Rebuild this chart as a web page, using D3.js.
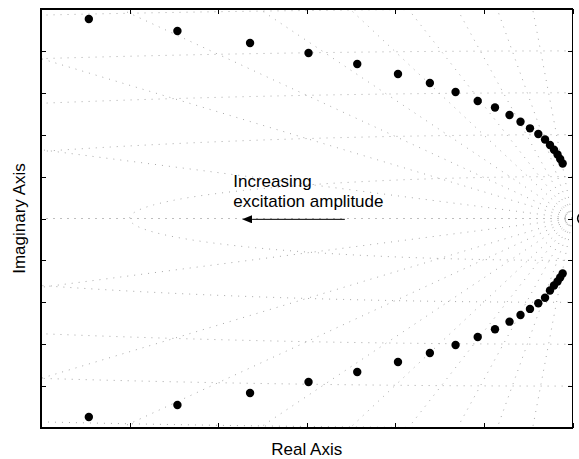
<!DOCTYPE html>
<html>
<head>
<meta charset="utf-8">
<script src="https://cdnjs.cloudflare.com/ajax/libs/d3/7.8.5/d3.min.js"></script>
<style>
body{margin:0;background:#fff}
svg{display:block;font-family:'Liberation Sans',Arial,sans-serif}
</style>
</head>
<body>
<div class="let"></div>
<script>
// poles (real part shared by both branches)
let realPart=[-0.546,-0.446,-0.364,-0.298,-0.243,-0.197,-0.161,-0.132,-0.107,-0.0875,-0.0711,-0.0587,-0.048,-0.0386,-0.031,-0.0254,-0.0209,-0.0169,-0.0139,-0.0111]
let imagUpper=[2.381,2.237,2.094,1.975,1.844,1.724,1.617,1.510,1.402,1.325,1.235,1.155,1.076,1.008,0.943,0.877,0.820,0.764,0.710,0.656]
let imagLower=[-2.369,-2.225,-2.082,-1.951,-1.832,-1.713,-1.605,-1.510,-1.414,-1.322,-1.231,-1.151,-1.079,-1.011,-0.945,-0.860,-0.800,-0.752,-0.704,-0.656]
let zeroReal=[0.012]
let zeroImag=[0]
let xTicks=[-0.6,-0.5,-0.4,-0.3,-0.2,-0.1,0]
let yTicks=[-2.5,-2,-1.5,-1,-0.5,0,0.5,1,1.5,2,2.5]
// s-plane grid
let dampingRatios=[1,0.59,0.3,0.2,0.14,0.1,0.074,0.052,0.034,0.018]
let naturalFreqs=[0.5,1,1.5,2,2.5]
let noteLines=['Increasing','excitation amplitude']
let noteX=-0.383
let noteY=[0.372,0.141]
let arrowFrom=[-0.257,-0.01]
let arrowTo=[-0.373,-0.01]

let w=579,h=459
let pl=41,pr=572.5,pt=9,pb=428
let xScale=d3.scaleLinear().domain([-0.6,0]).range([pl,pr])
let yScale=d3.scaleLinear().domain([-2.5,2.5]).range([pb,pt])

let svg=d3.select('.let').append('svg').attr('width',w).attr('height',h)
let defs=svg.append('defs')
defs.append('clipPath').attr('id','clip').append('rect')
  .attr('x',pl).attr('y',pt).attr('width',pr-pl).attr('height',pb-pt)
defs.append('marker').attr('id','head').attr('viewBox','0 0 10 8').attr('refX',0).attr('refY',4)
  .attr('markerWidth',10).attr('markerHeight',8).attr('markerUnits','userSpaceOnUse').attr('orient','auto')
  .append('path').attr('d','M0,0L10,4L0,8Z').attr('fill','#000')

let grid=svg.append('g').attr('clip-path','url(#clip)')
  .attr('fill','none').attr('stroke','#a8a8a8').attr('stroke-width',1).attr('stroke-dasharray','1,6')
let line=d3.line().x(d=>xScale(d[0])).y(d=>yScale(d[1]))

// damping lines from the origin, both half planes
dampingRatios.forEach(z=>{
  let s=Math.sqrt(1-z*z)
  ;[1,-1].forEach(sg=>{
    grid.append('path').attr('d',line([[0,0],[-3*z,sg*3*s]]))
  })
})
// natural frequency circles
let angles=d3.range(0,181).map(i=>Math.PI/2+i*Math.PI/180)
naturalFreqs.forEach(wn=>{
  grid.append('path').attr('d',line(angles.map(a=>[wn*Math.cos(a),wn*Math.sin(a)])))
})

// axes, ticks inward on all four sides
let xAxisB=d3.axisBottom(xScale).tickValues(xTicks).tickSize(-5).tickFormat('')
let xAxisT=d3.axisTop(xScale).tickValues(xTicks).tickSize(-5).tickFormat('')
let yAxisL=d3.axisLeft(yScale).tickValues(yTicks).tickSize(-5).tickFormat('')
let yAxisR=d3.axisRight(yScale).tickValues(yTicks).tickSize(-5).tickFormat('')
svg.append('g').attr('transform','translate(0,'+pb+')').call(xAxisB)
svg.append('g').attr('transform','translate(0,'+pt+')').call(xAxisT)
svg.append('g').attr('transform','translate('+pl+',0)').call(yAxisL)
svg.append('g').attr('transform','translate('+pr+',0)').call(yAxisR)
svg.selectAll('.domain').remove()
svg.selectAll('.tick line').attr('stroke','#000').attr('shape-rendering','crispEdges')
svg.append('rect').attr('x',pl).attr('y',pt).attr('width',pr-pl).attr('height',pb-pt)
  .attr('fill','none').attr('stroke','#000').attr('stroke-width',1.2).attr('shape-rendering','crispEdges')

// poles
let pts=realPart.map((r,i)=>[r,imagUpper[i]]).concat(realPart.map((r,i)=>[r,imagLower[i]]))
svg.append('g').selectAll('circle').data(pts).enter().append('circle')
  .attr('cx',d=>xScale(d[0])).attr('cy',d=>yScale(d[1])).attr('r',4.2).attr('fill','#000')
// zero marker (clipped by the window edge)
svg.append('g').selectAll('circle').data(zeroReal).enter().append('circle')
  .attr('cx',d=>xScale(d)).attr('cy',(d,i)=>yScale(zeroImag[i])).attr('r',5.5)
  .attr('fill','none').attr('stroke','#000').attr('stroke-width',1.5)

// annotation
svg.append('line').attr('x1',xScale(arrowFrom[0])).attr('y1',yScale(arrowFrom[1]))
  .attr('x2',xScale(arrowTo[0])+10).attr('y2',yScale(arrowTo[1]))
  .attr('stroke','#000').attr('stroke-width',1).attr('marker-end','url(#head)')
svg.selectAll('.note').data(noteLines).enter().append('text').attr('class','note')
  .attr('x',xScale(noteX)).attr('y',(d,i)=>yScale(noteY[i])).attr('font-size',17).text(d=>d)

svg.append('text').text('Real Axis').attr('x',(pl+pr)/2).attr('y',455)
  .attr('text-anchor','middle').attr('font-size',17)
svg.append('text').text('Imaginary Axis').attr('transform','translate(25,'+((pt+pb)/2)+') rotate(-90)')
  .attr('text-anchor','middle').attr('font-size',17)
</script>
</body>
</html>
